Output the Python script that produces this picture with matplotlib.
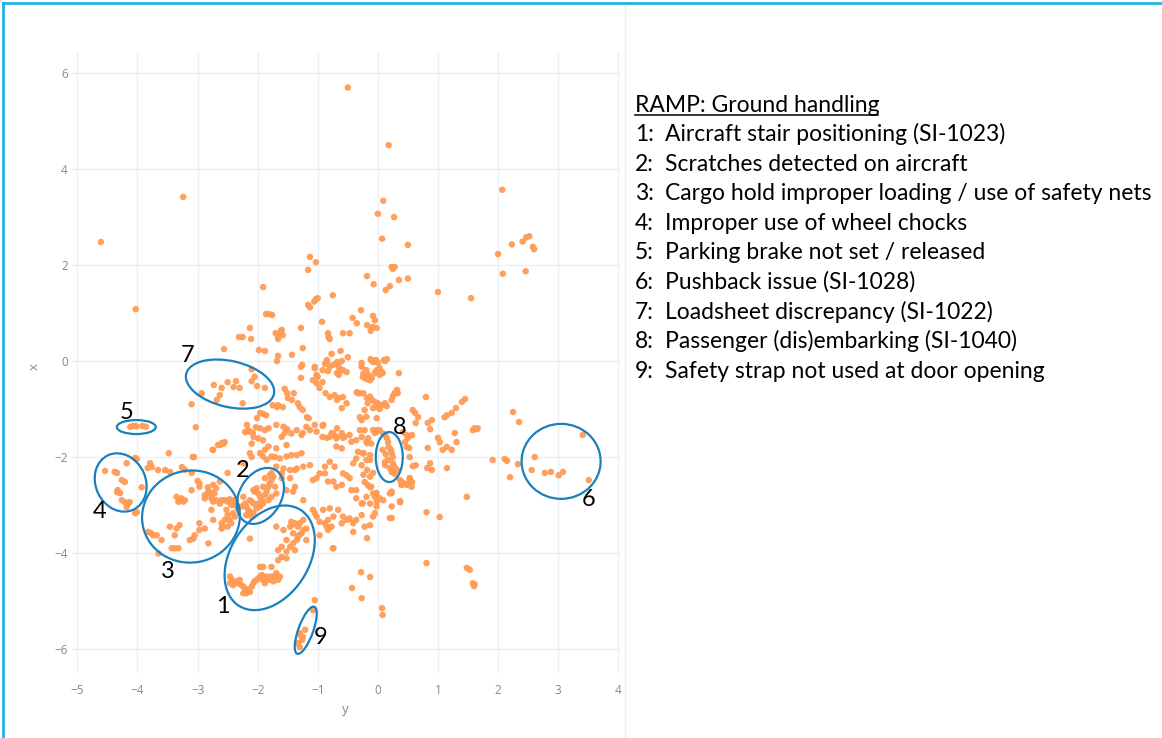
import matplotlib
matplotlib.use('Agg')
import matplotlib.pyplot as plt
from matplotlib.patches import Ellipse
from matplotlib.transforms import ScaledTranslation
from matplotlib.lines import Line2D

# ---------------- data ----------------
upper_pts = [(-0.5, 5.7), (0.18, 4.5), (-3.24, 3.42), (-4.61, 2.48), (-4.03, 1.08), (0.09, 3.34), (0.0, 3.07),
             (0.27, 3.0), (0.07, 2.55), (0.5, 2.42), (2.07, 3.57), (2.0, 2.23), (2.23, 2.43), (2.41, 2.49),
             (2.47, 2.58), (2.52, 2.6), (2.58, 2.38), (2.6, 2.33), (2.08, 1.82), (2.46, 1.87), (1.0, 1.44),
             (1.55, 1.31), (0.23, 1.96), (0.28, 1.96), (0.25, 1.92), (0.35, 1.69), (0.5, 1.72), (0.13, 1.48),
             (0.2, 1.56), (-1.13, 2.17), (-1.03, 2.06), (-1.16, 1.9), (-0.18, 1.77), (-0.07, 1.6), (-1.91, 1.54),
             (-0.75, 1.37), (-1.16, 1.17), (-1.13, 1.12), (-1.03, 1.29), (-1.0, 1.31), (-1.06, 1.24),
             (-1.86, 0.98), (-1.81, 0.98), (-1.76, 0.96), (-0.93, 0.82), (-0.28, 1.06), (-0.42, 0.9),
             (-0.35, 0.79), (-0.08, 0.94), (-0.05, 0.85), (-0.18, 0.75), (-0.1, 0.69), (-0.08, 0.71),
             (-0.02, 0.69), (-0.12, 0.63), (-2.31, 0.5), (-2.25, 0.5), (-2.13, 0.69), (-2.11, 0.46),
             (-1.7, 0.58), (-1.61, 0.63), (-1.66, 0.46), (-1.66, 0.52), (-1.28, 0.69), (-0.83, 0.58),
             (-0.82, 0.5), (-0.8, 0.46), (-0.58, 0.58), (-0.47, 0.58), (-1.25, 0.27), (-2.56, 0.25),
             (-1.98, 0.23), (-1.88, 0.21), (-1.43, 0.13), (-1.66, 0.11), (-1.68, 0.0), (-0.77, 0.15),
             (-0.62, 0.21), (-0.5, 0.08), (-0.6, 0.0), (-1.6, 0.65), (-1.58, 0.54)]

center_pts = [(-0.85, -0.02), (-0.88, -0.06), (-0.8, -0.12), (-0.75, -0.08), (-0.68, -0.02), (-0.65, -0.12),
              (-0.63, -0.17), (-0.68, -0.25), (-0.65, -0.29), (-0.58, -0.19), (-0.52, -0.23), (-1.05, -0.15),
              (-1.02, -0.29), (-1.0, -0.33), (-1.26, -0.08), (-1.28, -0.12), (-1.28, -0.35), (-1.05, -0.12),
              (-0.92, -0.19), (-0.83, -0.21), (-0.85, 0.02), (-1.08, -0.4), (-1.02, -0.46), (-0.92, -0.44),
              (-0.97, -0.56), (-0.87, -0.67), (-0.8, -0.75), (-0.72, -0.71), (-0.65, -0.77), (-0.58, -0.75),
              (-0.52, -0.88), (-0.6, -0.98), (-0.68, -0.81), (-0.27, -0.04), (-0.12, 0.04), (-0.08, -0.02),
              (-0.03, 0.02), (0.0, -0.04), (0.03, -0.15), (-0.02, -0.19), (-0.05, -0.25), (0.03, -0.29),
              (0.08, -0.25), (0.12, 0.0), (0.15, 0.04), (0.07, -0.23), (-0.25, -0.33), (-0.22, -0.35),
              (-0.18, -0.38), (-0.13, -0.4), (-0.15, -0.33), (-0.1, -0.35), (-0.16, -0.29), (-0.24, -0.26),
              (-0.19, -0.19), (-0.27, -0.12), (0.1, 0.02), (-0.11, 0.02), (0.35, -0.25), (0.25, -0.73),
              (0.28, -0.67), (0.32, -0.6), (0.33, -0.67), (0.3, -0.65), (0.23, -0.81), (0.8, -0.75),
              (-0.18, -0.77), (-0.1, -0.81), (-0.05, -0.85), (0.0, -0.88), (0.07, -0.92), (0.12, -0.88),
              (-0.02, -0.96), (-0.08, -0.98), (-0.22, -1.02), (-0.17, -0.88), (-0.3, -0.67), (-0.24, -0.67),
              (-0.13, -0.74), (-0.35, -0.65), (-0.33, -0.67), (-0.3, -1.17), (0.15, -0.94), (0.03, -1.0),
              (-0.27, -1.23), (-0.19, -1.16), (-0.02, -1.19), (-0.22, -1.44), (-0.08, -1.44), (-0.02, -1.47),
              (0.03, -1.44), (0.09, -1.51), (-0.27, -1.58), (-0.19, -1.68), (-0.11, -1.72), (-0.24, -1.92),
              (-0.13, -1.96), (-0.19, -2.06), (-0.27, -2.17), (-0.24, -2.37), (-0.13, -2.41), (-0.11, -2.62),
              (-0.19, -2.83), (-0.05, -2.76), (-0.27, -2.97), (-0.13, -2.97), (-0.02, -2.93), (0.03, -2.86),
              (0.2, -2.76), (0.37, -2.93), (0.53, -2.44), (0.42, -2.55), (0.39, -2.58), (0.5, -2.55),
              (0.56, -2.62), (0.37, -2.48)]

left_pts = [(-1.55, -0.58), (-1.51, -0.67), (-1.5, -0.77), (-1.43, -0.81), (-1.4, -0.67), (-1.33, -0.88),
            (-1.3, -0.96), (-1.25, -1.02), (-1.75, -0.92), (-1.66, -0.92), (-1.58, -0.96), (-1.68, -0.96),
            (-1.96, -1.08), (-1.91, -1.1), (-1.86, -1.13), (-2.01, -1.19), (-2.18, -1.33), (-2.16, -1.44),
            (-2.21, -1.48), (-2.08, -1.5), (-2.03, -1.38), (-1.88, -1.44), (-1.18, -1.17), (-1.15, -1.19),
            (-1.05, -1.33), (-0.92, -1.35), (-0.68, -1.4), (-0.6, -1.5), (-0.92, -1.58), (-0.85, -1.6),
            (-0.68, -1.58), (-0.77, -1.5), (-0.58, -1.6), (-0.47, -1.54), (-1.55, -1.5), (-1.51, -1.42),
            (-1.35, -1.44), (-1.25, -1.5), (-3.1, -0.9), (-3.03, -1.38),
            (-1.96, -1.4), (-2.13, -1.47), (-2.07, -1.58), (-1.82, -1.4), (-1.69, -1.33), (-1.57, -1.37),
            (-1.44, -1.51), (-1.27, -1.54), (-1.19, -1.37), (-1.13, -1.44), (-1.02, -1.47), (-0.91, -1.33),
            (-0.8, -1.58), (-0.74, -1.51), (-0.69, -1.61), (-0.55, -1.58), (-0.44, -1.68), (-0.69, -1.78),
            (-0.6, -1.82), (-0.36, -1.65), (-0.3, -1.44), (-0.16, -1.61), (-0.33, -1.89), (-0.24, -1.92),
            (-0.36, -2.03), (-0.41, -2.13), (-1.52, -1.75), (-1.69, -1.82), (-1.82, -1.78), (-1.88, -1.85),
            (-1.96, -1.92), (-1.91, -1.99), (-1.77, -1.99), (-1.63, -2.03), (-1.52, -1.99), (-1.44, -1.96),
            (-1.35, -1.96), (-1.27, -1.92), (-1.13, -2.17), (-1.24, -2.2), (-1.35, -2.24), (-1.38, -2.27),
            (-1.46, -2.27), (-1.57, -2.24), (-1.69, -2.2), (-1.77, -2.34), (-1.6, -2.34), (-1.6, -2.44),
            (-1.46, -2.44), (-1.52, -2.69), (-1.38, -2.62), (-1.41, -2.72), (-1.24, -2.9), (-1.08, -2.48),
            (-1.02, -2.44), (-0.97, -2.34), (-0.88, -2.2), (-0.8, -2.1), (-0.72, -2.2), (-0.88, -2.34),
            (-0.83, -2.51), (-0.74, -2.51), (-0.69, -2.62), (-0.6, -2.58), (-0.58, -2.34), (-0.52, -2.38),
            (-0.47, -2.44), (-0.44, -2.69), (-0.36, -2.69), (-0.36, -2.86), (-0.08, -2.76), (-0.05, -3.17),
            (0.09, -2.9), (0.23, -3.03), (0.23, -2.72), (0.39, -2.51), (-2.57, -1.72), (-2.63, -1.75),
            (-2.74, -1.85), (-2.13, -1.92), (-2.24, -2.13), (-2.1, -1.72), (-1.91, -1.65), (-1.99, -1.61),
            (-1.85, -2.06), (-1.71, -2.0), (-1.6, -1.58), (-2.1, -2.0),
            (-1.08, -3.1), (-1.05, -3.17), (-0.91, -3.1), (-0.8, -3.07), (-0.66, -3.1), (-0.74, -3.24),
            (-0.83, -3.31), (-0.88, -3.38), (-0.85, -3.45), (-0.83, -3.52), (-0.77, -3.45), (-0.58, -3.24),
            (-0.52, -3.31), (-0.6, -3.38), (-0.47, -3.28), (-0.41, -3.38), (-0.36, -3.31), (-0.41, -3.56),
            (-0.27, -3.21), (-0.22, -3.45), (-0.08, -3.24), (-0.13, -3.42), (-0.02, -3.03), (-1.02, -3.24),
            (-0.97, -3.35), (-0.74, -3.9), (-0.97, -3.63)]

right_pts = [(0.58, -1.02), (0.62, -1.08), (0.67, -1.17), (0.83, -1.29), (0.9, -1.23), (0.87, -1.42),
             (1.11, -1.17), (1.15, -1.13), (1.23, -1.08), (1.3, -0.98), (1.4, -0.85), (1.45, -0.79),
             (1.58, -1.44), (1.61, -1.4), (1.65, -1.42), (1.66, -1.4), (1.0, -1.6), (1.03, -1.69),
             (1.08, -1.85), (1.23, -1.85), (1.28, -1.5), (1.31, -1.69), (1.15, -1.79), (0.83, -1.81),
             (0.87, -2.13), (0.9, -2.27), (0.82, -2.23), (0.63, -2.17), (0.58, -2.19), (1.15, -2.23),
             (0.53, -2.0), (0.52, -1.81), (0.5, -1.6), (0.48, -1.54), (0.45, -1.69), (0.48, -1.79),
             (0.42, -1.48), (0.57, -1.54), (0.63, -1.29), (-0.02, -1.44), (-0.05, -1.5), (-0.18, -1.71),
             (-0.25, -1.92), (-0.13, -2.06), (-0.18, -2.27), (-0.08, -2.33), (-0.22, -2.52), (-0.17, -2.58),
             (-0.02, -2.75), (-0.05, -2.83), (-0.13, -2.63), (-0.25, -2.96), (0.23, -2.75), (0.37, -2.94),
             (0.42, -2.54), (0.53, -2.44), (0.57, -2.52), (0.48, -2.58), (0.4, -2.58),
             (1.48, -2.83), (1.91, -2.06), (2.11, -2.04), (2.15, -2.08), (2.2, -2.42), (2.25, -1.06),
             (2.35, -1.27), (2.33, -2.15)]

lower_pts = [(0.81, -3.15), (1.03, -3.25), (0.23, -3.27), (0.37, -2.92), (0.81, -4.21), (1.48, -4.31),
             (1.53, -4.35), (1.58, -4.63), (1.61, -4.65), (1.6, -4.69), (0.07, -5.15), (0.08, -5.29),
             (-0.75, -3.9), (-0.43, -4.73), (-0.27, -4.94), (-0.13, -4.5), (-0.28, -4.4), (-0.18, -3.69),
             (0.2, -3.27)]

cluster1 = [(-2.46, -4.49), (-2.46, -4.63), (-2.41, -4.67), (-2.35, -4.63), (-2.3, -4.56), (-2.27, -4.67),
            (-2.21, -4.74), (-2.19, -4.84), (-2.13, -4.81), (-2.1, -4.7), (-2.07, -4.63), (-2.02, -4.56),
            (-1.96, -4.49), (-1.91, -4.56), (-1.85, -4.49), (-1.8, -4.53), (-1.74, -4.59), (-1.71, -4.49),
            (-1.69, -4.42), (-1.66, -4.56), (-2.43, -4.56), (-2.38, -4.59), (-2.24, -4.7), (-2.16, -4.77),
            (-2.05, -4.59), (-1.99, -4.53), (-1.93, -4.46), (-1.88, -4.63), (-1.82, -4.56), (-1.77, -4.49),
            (-1.63, -4.49), (-2.24, -4.84), (-1.96, -4.29), (-1.91, -4.29), (-1.77, -4.29), (-1.66, -4.15),
            (-1.6, -4.08), (-1.52, -4.11), (-1.52, -3.97), (-1.46, -3.87), (-1.41, -3.8), (-1.35, -3.73),
            (-1.33, -3.66), (-1.27, -3.59), (-1.24, -3.52), (-1.19, -3.49), (-1.41, -3.59), (-1.44, -3.42),
            (-1.38, -3.38), (-1.33, -3.45), (-1.3, -3.38), (-1.46, -3.45), (-1.57, -3.52), (-1.69, -3.45),
            (-2.13, -3.7), (-1.19, -3.73), (-1.52, -3.73), (-1.6, -3.87), (-1.66, -3.94), (-1.38, -3.94),
            (-1.44, -3.35), (-1.24, -3.31), (-1.31, -3.63)]

cluster2 = [(-2.24, -2.83), (-2.21, -2.97), (-2.19, -3.03), (-2.16, -3.1), (-2.13, -2.9), (-2.1, -2.93),
            (-2.07, -2.97), (-2.07, -2.69), (-2.05, -2.72), (-2.02, -2.65), (-1.99, -2.76), (-1.96, -2.83),
            (-1.93, -2.9), (-1.91, -2.97), (-1.88, -2.79), (-1.85, -2.72), (-1.82, -2.62), (-1.8, -2.55),
            (-1.77, -2.48), (-1.74, -2.41), (-1.77, -2.83), (-1.82, -2.9), (-1.96, -3.03), (-2.02, -3.07),
            (-2.13, -3.14), (-2.19, -3.21), (-2.1, -3.24), (-1.8, -2.38), (-1.69, -2.76), (-1.71, -2.62),
            (-1.91, -2.62), (-1.88, -2.44), (-1.99, -2.97), (-2.27, -3.03), (-2.07, -3.17)]

cluster3 = [(-2.63, -2.51), (-2.74, -2.58), (-2.97, -2.55), (-3.1, -2.69), (-2.82, -2.72), (-2.8, -2.76),
            (-2.72, -2.76), (-2.77, -2.86), (-2.74, -2.93), (-2.69, -2.9), (-2.6, -2.9), (-2.63, -2.97),
            (-2.55, -2.9), (-2.5, -2.93), (-2.47, -2.88), (-2.41, -2.9), (-2.44, -3.0), (-2.52, -3.1),
            (-2.5, -3.21), (-2.55, -3.31), (-2.6, -3.38), (-2.58, -3.45), (-2.6, -3.49), (-2.77, -3.1),
            (-2.74, -3.31), (-2.97, -3.38), (-2.97, -3.52), (-2.88, -3.49), (-3.05, -3.63), (-3.07, -3.7),
            (-3.13, -3.73), (-2.82, -3.8), (-3.27, -2.86), (-3.3, -2.9), (-3.24, -2.93), (-3.32, -2.93),
            (-3.21, -2.9), (-3.46, -3.45), (-3.38, -3.63), (-3.3, -3.42), (-3.35, -3.49), (-3.82, -3.56),
            (-3.77, -3.59), (-3.74, -3.63), (-3.68, -3.63), (-3.6, -3.73), (-3.43, -3.9), (-3.38, -3.9),
            (-3.32, -3.9), (-3.65, -4.01), (-2.36, -2.9), (-2.38, -3.0), (-2.33, -3.07), (-2.41, -3.17),
            (-2.47, -3.31), (-2.44, -3.38), (-2.5, -3.45), (-2.38, -3.24), (-2.77, -2.74), (-2.69, -2.65),
            (-2.88, -2.79), (-2.88, -2.86), (-3.35, -2.83), (-3.0, -2.5), (-2.97, -2.62), (-2.83, -2.63)]

cluster4 = [(-4.54, -2.29), (-4.38, -2.31), (-4.34, -2.33), (-4.18, -2.13), (-4.26, -2.48), (-4.21, -2.52),
            (-4.33, -2.69), (-4.34, -2.73), (-4.29, -2.75), (-4.26, -2.9), (-4.21, -2.94), (-4.18, -3.04),
            (-4.13, -2.94), (-4.16, -2.96)]

cluster5 = [(-4.12, -1.37), (-4.07, -1.35), (-4.02, -1.36), (-3.92, -1.35), (-3.86, -1.37)]

cluster6 = [(3.41, -1.54), (2.61, -2.0), (2.56, -2.27), (2.78, -2.33), (2.88, -2.31), (3.01, -2.38),
            (3.08, -2.31), (3.51, -2.48)]

cluster8 = [(0.12, -1.54), (0.15, -1.6), (0.17, -1.69), (0.18, -1.79), (0.22, -1.85), (0.08, -1.85),
            (0.13, -1.94), (0.23, -1.92), (0.25, -2.0), (0.17, -2.06), (0.12, -2.1), (0.25, -2.13),
            (0.28, -2.21), (0.2, -2.23), (0.23, -2.31), (0.28, -2.35), (0.32, -2.27), (0.12, -2.17)]

cluster9 = [(-1.3, -5.67), (-1.26, -5.81), (-1.33, -5.88), (-1.25, -5.75), (-1.21, -5.6), (-1.3, -5.96),
            (-1.28, -5.72), (-1.08, -5.19), (-1.05, -4.98)]

misc_left = [(-3.93, -2.63), (-4.01, -3.15), (-4.04, -3.17), (-4.04, -2.02), (-4.01, -2.04), (-3.48, -1.92),
             (-3.06, -2.0), (-3.79, -2.13), (-3.76, -2.21), (-3.83, -2.23), (-3.66, -2.27), (-3.54, -2.27),
             (-3.46, -2.31), (-3.26, -2.21), (-3.21, -2.27), (-3.1, -2.33), (-2.5, -2.33), (-2.6, -1.71),
             (-2.75, -1.85), (-2.66, -1.75), (-2.55, -1.69), (-3.08, -2.0),
             (-2.93, -0.67), (-2.73, -0.5), (-2.6, -0.56), (-2.5, -0.44), (-2.36, -0.42), (-2.4, -0.54),
             (-2.3, -0.56), (-2.63, -0.71), (-2.68, -0.81), (-2.25, -0.88), (-2.1, -0.42), (-2.05, -0.33),
             (-2.01, -0.52), (-1.88, -0.56), (-2.1, -0.17)]

# legend / annotation texts
header = "RAMP: Ground handling"
legend_items = ["Aircraft stair positioning (SI-1023)",
                "Scratches detected on aircraft",
                "Cargo hold improper loading / use of safety nets",
                "Improper use of wheel chocks",
                "Parking brake not set / released",
                "Pushback issue (SI-1028)",
                "Loadsheet discrepancy (SI-1022)",
                "Passenger (dis)embarking (SI-1040)",
                "Safety strap not used at door opening"]

# ellipse annotations: label, centre (data), semi-axes (px), angle (deg), label position (data)
ell_labels = ["1", "2", "3", "4", "5", "6", "7", "8", "9"]
ell_centers = [(-1.80, -4.10), (-1.955, -2.81), (-3.11, -3.24), (-4.28, -2.53), (-4.02, -1.375),
               (3.05, -2.09), (-2.46, -0.48), (0.19, -2.0), (-1.2, -5.61)]
ell_axes = [(57, 39), (30, 21), (49, 46), (30, 25), (19.5, 7), (39.5, 37.5), (45, 23), (13.5, 25), (25, 7.4)]
ell_angles = [57, 60, 10, 115, 0, 0, -13, 0, 70]
label_pos = [(-2.58, -5.12), (-2.25, -2.29), (-3.49, -4.38), (-4.63, -3.13), (-4.19, -1.08),
             (3.51, -2.88), (-3.16, 0.125), (0.37, -1.38), (-0.95, -5.77)]

# ---------------- figure ----------------
W, H, DPI = 1162, 738, 100
fig = plt.figure(figsize=(W / DPI, H / DPI), dpi=DPI)
fig.patch.set_facecolor('white')


def fx(px):
    return px / W


def fy(py):
    return 1 - py / H


ax = fig.add_axes([fx(72), fy(673), (620 - 72) / W, (673 - 52) / H])
ax.set_xlim(-5.09, 4.03)
ax.set_ylim(-6.5, 6.44)
for s in ax.spines.values():
    s.set_visible(False)
ax.set_xticks(range(-5, 5))
ax.set_yticks(range(-6, 7, 2))
ax.grid(True, color='#ebf0f8', lw=1.0, zorder=0)
ax.set_axisbelow(True)
ax.tick_params(length=0, labelsize=8.5, labelcolor='#7d899b')
ax.tick_params(axis='x', pad=8)
ax.tick_params(axis='y', pad=3)
for lab in ax.get_xticklabels() + ax.get_yticklabels():
    lab.set_family('Open Sans')

all_groups = [upper_pts, center_pts, left_pts, right_pts, lower_pts, cluster1, cluster2, cluster3,
              cluster4, cluster5, cluster6, cluster8, cluster9, misc_left]
xs = [p[0] for g in all_groups for p in g]
ys = [p[1] for g in all_groups for p in g]
ax.scatter(xs, ys, s=22, color='#ff9b55', edgecolors='none', alpha=0.95, zorder=3)

ell_color = '#1a80bd'
for c, (a, b), ang in zip(ell_centers, ell_axes, ell_angles):
    tr = fig.dpi_scale_trans + ScaledTranslation(c[0], c[1], ax.transData)
    e = Ellipse((0, 0), 2 * a / DPI, 2 * b / DPI, angle=ang, transform=tr,
                fill=False, edgecolor=ell_color, lw=1.6, zorder=4, clip_on=False)
    ax.add_patch(e)

for lab, (lx, ly) in zip(ell_labels, label_pos):
    ax.text(lx, ly, lab, fontsize=17, family='Lato', color='black', ha='center', va='center', zorder=5)

# axis titles
fig.text(fx(34), fy(367), 'x', rotation=90, ha='center', va='center', fontsize=9.5,
         color='#7d899b', family='Open Sans')
fig.text(fx(345), fy(710), 'y', ha='center', va='center', fontsize=9.5,
         color='#7d899b', family='Open Sans')

# legend text block
fs = 16.5
fig.text(fx(635), fy(112), header, fontsize=fs, family='Lato', color='black', ha='left', va='baseline')
fig.add_artist(Line2D([fx(635), fx(878)], [fy(115), fy(115)], transform=fig.transFigure,
                      color='black', lw=1.1))
for i, item in enumerate(legend_items):
    yb = 141 + 29.6 * i
    fig.text(fx(635), fy(yb), f"{i + 1}:", fontsize=fs, family='Lato', color='black',
             ha='left', va='baseline')
    fig.text(fx(665), fy(yb), item, fontsize=fs, family='Lato', color='black',
             ha='left', va='baseline')

# frame lines (screenshot border)
fig.add_artist(Line2D([fx(3), 1.0], [fy(3), fy(3)], transform=fig.transFigure, color='#22b0e6', lw=2))
fig.add_artist(Line2D([fx(3), fx(3)], [fy(3), 0.0], transform=fig.transFigure, color='#22b0e6', lw=2))
fig.add_artist(Line2D([fx(625), fx(625)], [fy(5), 0.0], transform=fig.transFigure, color='#ececec', lw=1))

fig.savefig('out.png', dpi=DPI, facecolor='white')
